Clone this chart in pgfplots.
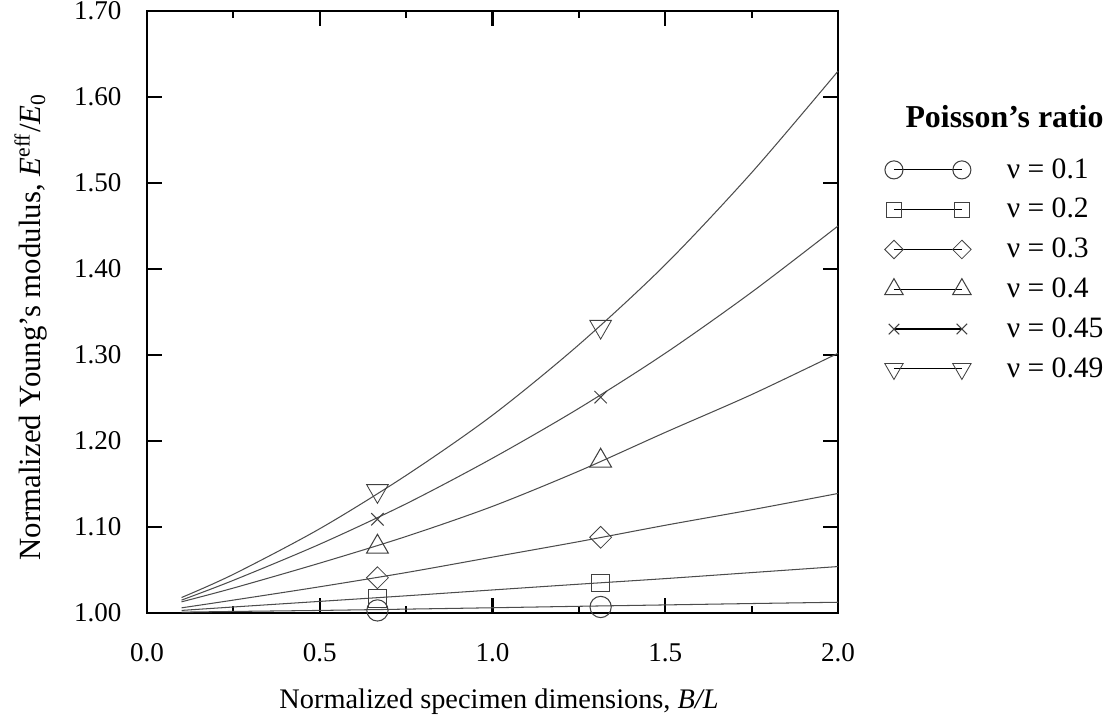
\documentclass[border=0pt]{standalone}
\usepackage{fontspec}
\setmainfont{Liberation Serif}
\usepackage{pgfplots}
\usepackage{pgfplotstable}
\pgfplotsset{compat=1.18}

% Fitted curves of the effective modulus against specimen aspect ratio
\pgfplotstableread{
x     p10     p20     p30     p40     p45     p49
0.10  1.0010  1.0030  1.0060  1.0130  1.0150  1.0180
0.25  1.0018  1.0070  1.0150  1.0290  1.0380  1.0450
0.50  1.0030  1.0135  1.0305  1.0580  1.0800  1.0980
0.75  1.0045  1.0200  1.0470  1.0890  1.1270  1.1600
1.00  1.0061  1.0268  1.0650  1.1240  1.1800  1.2300
1.25  1.0078  1.0335  1.0830  1.1650  1.2380  1.3120
1.50  1.0094  1.0400  1.1020  1.2100  1.3020  1.4050
1.75  1.0110  1.0470  1.1200  1.2540  1.3730  1.5120
2.00  1.0125  1.0540  1.1390  1.3020  1.4500  1.6300
}\curves

% Computed points
\pgfplotstableread{
x      p10    p20    p30    p40    p45    p49
0.667  1.003  1.017  1.041  1.077  1.109  1.142
1.313  1.007  1.035  1.088  1.177  1.251  1.333
}\points

\pgfplotsset{
  fitline/.style={black!70, line width=0.5pt, smooth, no marks, forget plot},
  pts/.style={only marks, black!75, mark options={line width=0.5pt, solid},
    legend image code/.code={
      \path[draw=none, fill=none] (-6pt,-9.55pt) rectangle (38.6pt,9.55pt);
      \draw[black, line width=0.55pt] (0pt,0pt) -- (32.6pt,0pt);
      \draw[mark repeat=1,mark phase=1,##1,every mark/.append style={scale=0.85}]
        plot coordinates {(0pt,0pt) (32.6pt,0pt)};
    }},
}

\begin{document}
\begin{tikzpicture}[font=\fontsize{13.6pt}{16pt}\selectfont]
\path[use as bounding box] (-70.56pt,-52.8pt) rectangle (466.56pt,294.24pt);
\begin{axis}[
  at={(0pt,0pt)}, anchor=south west,
  scale only axis, width=331.68pt, height=288.96pt,
  xmin=0, xmax=2.0, ymin=1.0, ymax=1.7,
  xtick={0,0.5,1.0,1.5,2.0}, minor x tick num=1,
  ytick={1.0,1.1,1.2,1.3,1.4,1.5,1.6,1.7},
  /pgf/number format/assume math mode=true,
  ticklabel style={font=\fontsize{13pt}{15pt}\selectfont},
  xticklabel style={yshift=-11.1pt, /pgf/number format/.cd, fixed, fixed zerofill, precision=1},
  yticklabel style={xshift=-8.7pt, /pgf/number format/.cd, fixed, fixed zerofill, precision=2},
  tick align=inside,
  major tick length=7.4pt, minor tick length=3.5pt,
  every tick/.style={black, line width=1pt},
  axis line style={line width=1pt},
  xlabel={Normalized specimen dimensions, \textit{B/L}},
  ylabel={Normalized Young’s modulus, \textit{E}\textsuperscript{eff}/\textit{E}\textsubscript{0}},
  xlabel style={at={(axis description cs:0.5094,-0.1475)}, anchor=center},
  ylabel style={at={(axis description cs:-0.168,0.475)}, anchor=center,
    font=\fontsize{14.8pt}{17pt}\selectfont},
  clip=false,
  legend cell align=left,
  legend style={at={(axis description cs:1.0629,0.7691)}, anchor=north west,
    draw=none, fill=none, inner sep=0pt, outer sep=0pt,
    row sep=0pt, column sep=15.6pt,
    nodes={inner sep=0pt, font=\fontsize{14.2pt}{16pt}\selectfont}},
]
\addplot[fitline] table[x=x, y=p10] {\curves};
\addplot[fitline] table[x=x, y=p20] {\curves};
\addplot[fitline] table[x=x, y=p30] {\curves};
\addplot[fitline] table[x=x, y=p40] {\curves};
\addplot[fitline] table[x=x, y=p45] {\curves};
\addplot[fitline] table[x=x, y=p49] {\curves};

\addplot[pts, mark=o, mark size=5.1pt] table[x=x, y=p10] {\points};
\addlegendentry{ν = 0.1}
\addplot[pts, mark=square, mark size=4.2pt] table[x=x, y=p20] {\points};
\addlegendentry{ν = 0.2}
\addplot[pts, mark=square, mark size=3.7pt, mark options={rotate=45}] table[x=x, y=p30] {\points};
\addlegendentry{ν = 0.3}
\addplot[pts, mark=triangle, mark size=6.0pt] table[x=x, y=p40] {\points};
\addlegendentry{ν = 0.4}
\addplot[pts, mark=x, mark size=4.2pt] table[x=x, y=p45] {\points};
\addlegendentry{ν = 0.45}
\addplot[pts, mark=triangle, mark size=6.0pt, mark options={rotate=180}] table[x=x, y=p49] {\points};
\addlegendentry{ν = 0.49}

\node[font=\fontsize{15.3pt}{18pt}\bfseries\selectfont] at (axis description cs:1.241,0.8239) {Poisson’s ratio};
\end{axis}
\end{tikzpicture}
\end{document}
